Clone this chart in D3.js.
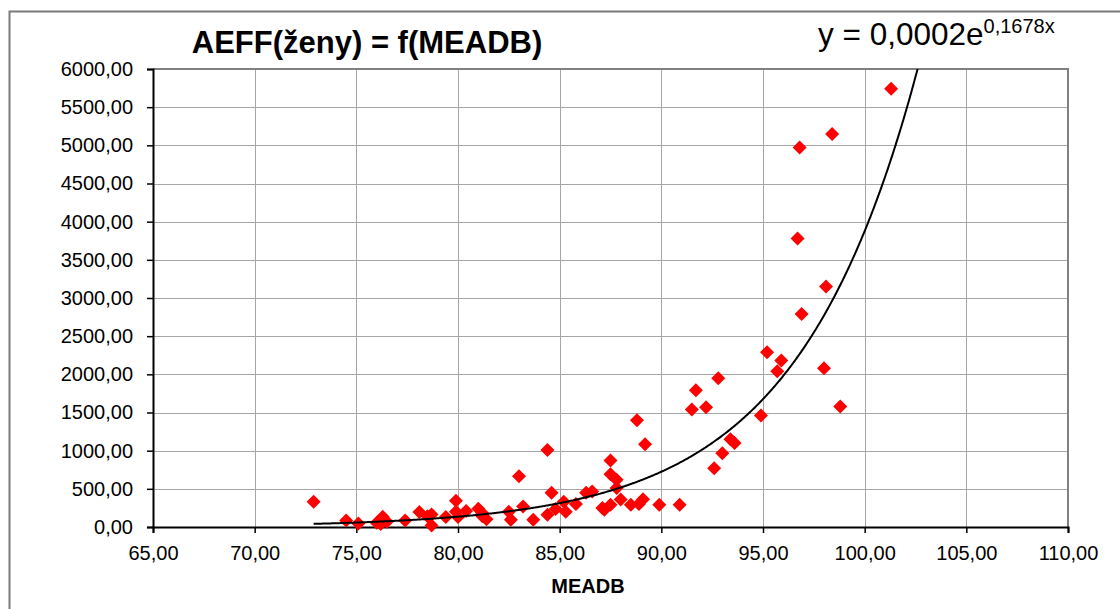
<!DOCTYPE html>
<html>
<head>
<meta charset="utf-8">
<script src="https://cdn.jsdelivr.net/npm/d3@7"></script>
<style>
  body { margin: 0; background: #fff; }
  svg { display: block; font-family: "Liberation Sans", Arial, sans-serif; }
</style>
</head>
<body>
<svg id="chart" width="1120" height="609"></svg>
<script>
// MEADB (x) and AEFF for women (y), one entry per measurement
const meadb = [72.9, 74.5, 75.1, 76.0, 76.3, 76.2, 76.5, 77.4, 78.1, 78.5,
               78.7, 78.7, 79.4, 79.9, 79.9, 80.0, 80.4, 81.0, 81.2, 81.4,
               81.2, 82.5, 82.6, 83.0, 83.2, 83.7, 84.4, 84.6, 84.4, 84.8,
               85.2, 85.3, 85.8, 86.3, 86.6, 87.1, 87.2, 87.5, 87.5, 87.5,
               87.8, 87.8, 88.0, 88.5, 88.8, 88.9, 89.1, 89.2, 89.9, 90.9,
               91.5, 91.7, 92.2, 92.6, 92.8, 93.0, 93.4, 93.6, 94.9, 95.2,
               95.7, 95.9, 96.7, 96.8, 96.9, 98.0, 98.1, 98.4, 98.8, 101.3];
const aeff  = [330, 85, 45, 55, 135, 40, 70, 85, 195, 140,
               165, 20, 130, 345, 200, 130, 210, 240, 140, 100,
               180, 200, 95, 665, 270, 95, 1010, 450, 160, 235,
               330, 200, 300, 450, 465, 250, 225, 290, 870, 690,
               620, 510, 360, 290, 1400, 300, 365, 1085, 290, 290,
               1540, 1790, 1570, 770, 1950, 965, 1150, 1100, 1460, 2290,
               2040, 2180, 3780, 4970, 2790, 2080, 3150, 5150, 1580, 5740];

const xTicks = [65, 70, 75, 80, 85, 90, 95, 100, 105, 110];
const yTicks = [0, 500, 1000, 1500, 2000, 2500, 3000, 3500, 4000, 4500, 5000, 5500, 6000];

// Exponential trend y = a * e^(b x)
const trendA = 0.0002;
const trendB = 0.1678;

const titleText = "AEFF(ženy) = f(MEADB)";
const xAxisTitle = "MEADB";

const points = meadb.map((x, i) => ({ x, y: aeff[i] }));

const svg = d3.select("#chart");
const W = 1120, H = 609;
const plot = { left: 153, top: 69, right: 1068, bottom: 527 };

const x = d3.scaleLinear().domain([65, 110]).range([plot.left, plot.right]);
const y = d3.scaleLinear().domain([0, 6000]).range([plot.bottom, plot.top]);

const locale = d3.formatLocale({ decimal: ",", thousands: "", grouping: [3], currency: ["", ""] });
const fmt = locale.format(".2f");

svg.append("rect").attr("width", W).attr("height", H).attr("fill", "#fff");

// chart-area frame
svg.append("path")
  .attr("d", `M9.5,${H} V11.5 H${W}`)
  .attr("fill", "none").attr("stroke", "#7a7a7a").attr("stroke-width", 2);

// gridlines
const grid = svg.append("g");
grid.selectAll("line.h").data(yTicks).join("line")
  .attr("x1", plot.left).attr("x2", plot.right)
  .attr("y1", d => Math.round(y(d)) + 0.5).attr("y2", d => Math.round(y(d)) + 0.5)
  .attr("stroke", "#a6a6a6").attr("stroke-width", 1);
grid.selectAll("line.v").data(xTicks).join("line")
  .attr("y1", plot.top).attr("y2", plot.bottom)
  .attr("x1", d => Math.round(x(d)) + 0.5).attr("x2", d => Math.round(x(d)) + 0.5)
  .attr("stroke", "#a6a6a6").attr("stroke-width", 1);

// plot-area border (top and right)
svg.append("path")
  .attr("d", `M${plot.left},${plot.top} H${plot.right} V${plot.bottom}`)
  .attr("fill", "none").attr("stroke", "#808080").attr("stroke-width", 2);

// axes
const yAxis = d3.axisLeft(y).tickValues(yTicks).tickFormat(fmt).tickSize(6).tickPadding(14);
const xAxis = d3.axisBottom(x).tickValues(xTicks).tickFormat(fmt).tickSize(6).tickPadding(13);

const gy = svg.append("g").attr("transform", `translate(${plot.left},0)`).call(yAxis);
const gx = svg.append("g").attr("transform", `translate(0,${plot.bottom})`).call(xAxis);
[gx, gy].forEach(g => {
  g.select(".domain").attr("stroke", "#000").attr("stroke-width", 2);
  g.selectAll(".tick line").attr("stroke", "#000").attr("stroke-width", 1.5);
  g.selectAll(".tick text").attr("fill", "#000")
    .style("font-family", '"Liberation Sans", Arial, sans-serif')
    .style("font-size", "20px");
});

// clip for the trendline
svg.append("clipPath").attr("id", "plotClip")
  .append("rect").attr("x", plot.left).attr("y", plot.top)
  .attr("width", plot.right - plot.left).attr("height", plot.bottom - plot.top);

// data markers (diamonds)
const r = 7;
svg.append("g").selectAll("path").data(points).join("path")
  .attr("transform", d => `translate(${x(d.x)},${y(d.y)})`)
  .attr("d", `M0,${-r} L${r},0 L0,${r} L${-r},0 Z`)
  .attr("fill", "#ff0000");

// trendline from the smallest MEADB value to the right edge
const xMin = d3.min(meadb);
const trend = d3.range(xMin, 110.0001, 0.05).map(v => ({ x: v, y: trendA * Math.exp(trendB * v) }));
svg.append("path")
  .datum(trend)
  .attr("clip-path", "url(#plotClip)")
  .attr("fill", "none").attr("stroke", "#000").attr("stroke-width", 2)
  .attr("d", d3.line().x(d => x(d.x)).y(d => y(Math.min(d.y, 7000))));

// title
svg.append("text")
  .attr("x", 367).attr("y", 53)
  .attr("text-anchor", "middle")
  .style("font-size", "31px").style("font-weight", "bold")
  .text(titleText);

// trend equation
const eq = svg.append("text").attr("x", 818).attr("y", 45).style("font-size", "31.5px");
eq.append("tspan").text("y = 0,0002e");
eq.append("tspan").attr("dy", -12).style("font-size", "20px").text("0,1678x");

// x-axis title
svg.append("text")
  .attr("x", 588).attr("y", 593)
  .attr("text-anchor", "middle")
  .style("font-size", "20px").style("font-weight", "bold")
  .text(xAxisTitle);
</script>
</body>
</html>
